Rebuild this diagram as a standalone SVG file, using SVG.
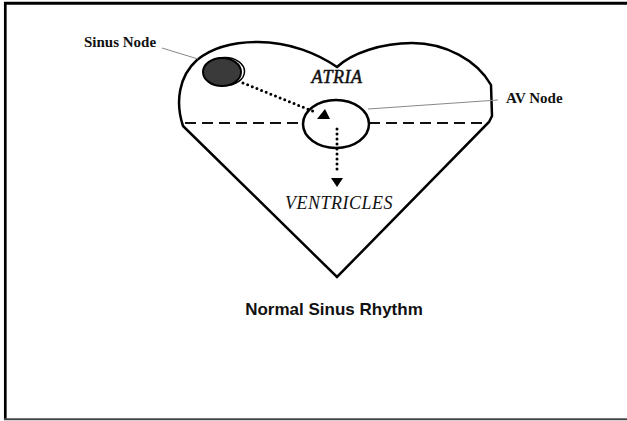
<svg xmlns="http://www.w3.org/2000/svg" width="627" height="421" viewBox="0 0 627 421">
  <style>
    .outline { fill: none; stroke: #000; stroke-width: 2.5; stroke-linejoin: miter; }
    .dash { fill: none; stroke: #111; stroke-width: 2; stroke-dasharray: 11 6; }
    .dots { fill: none; stroke: #000; stroke-width: 3; stroke-linecap: round; stroke-dasharray: 0 5; }
    .leader { fill: none; stroke: #888; stroke-width: 1; }
    .lbl { font-family: "Liberation Serif", "Times New Roman", serif; font-weight: bold; font-size: 15px; fill: #111; }
    .region { font-family: "Liberation Serif", "Times New Roman", serif; font-style: italic; font-size: 18px; letter-spacing: 0.5px; fill: #111; text-anchor: middle; }
    .title { font-family: "Liberation Sans", Arial, sans-serif; font-weight: bold; font-size: 17px; fill: #111; text-anchor: middle; }
  </style>
  <rect width="627" height="421" fill="#fff"/>
  <g id="frame">
    <line x1="4" y1="3.3" x2="627" y2="3.3" stroke="#000" stroke-width="3"/>
    <line x1="5.3" y1="2" x2="5.3" y2="420" stroke="#000" stroke-width="2.7"/>
    <line x1="4" y1="419.3" x2="627" y2="419.3" stroke="#444" stroke-width="2"/>
  </g>
  <g id="heart">
    <path class="outline" d="M183,126 C175,102 179,76 197,60 C214,46 235,42 258,42 C290,42 318,54 337,67 C352,53 382,43 412,43 C445,43 477,60 491,85 L492,116 L489,122 L337,277 Z"/>
    <line class="dash" x1="185" y1="123" x2="303" y2="123"/>
    <line class="dash" x1="369" y1="123" x2="488" y2="123"/>
    <text class="region" x="337" y="83" stroke="#111" stroke-width="0.5">ATRIA</text>
    <text class="region" x="339" y="209">VENTRICLES</text>
  </g>
  <g id="sinus-node">
    <ellipse cx="225" cy="71.5" rx="19.5" ry="14" fill="none" stroke="#000" stroke-width="1.5"/>
    <ellipse cx="222" cy="72" rx="19" ry="14" fill="#3a3a3a" stroke="#000" stroke-width="2"/>
    <text class="lbl" x="84" y="47">Sinus Node</text>
  </g>
  <g id="av-node">
    <ellipse cx="336" cy="124" rx="33" ry="24" fill="none" stroke="#000" stroke-width="2.5"/>
    <text class="lbl" x="506" y="103">AV Node</text>
  </g>
  <g id="connectors">
    <line class="leader" x1="162" y1="48" x2="198" y2="59"/>
    <line class="leader" x1="368" y1="109" x2="498" y2="100"/>
    <line class="dots" x1="243" y1="83" x2="315" y2="112"/>
    <polygon points="317,119 330,119 325,109" fill="#000"/>
    <line class="dots" x1="337" y1="129" x2="337" y2="174"/>
    <polygon points="331,178 343,178 337,187" fill="#000"/>
  </g>
  <g id="caption">
    <text class="title" x="334" y="315">Normal Sinus Rhythm</text>
  </g>
</svg>
